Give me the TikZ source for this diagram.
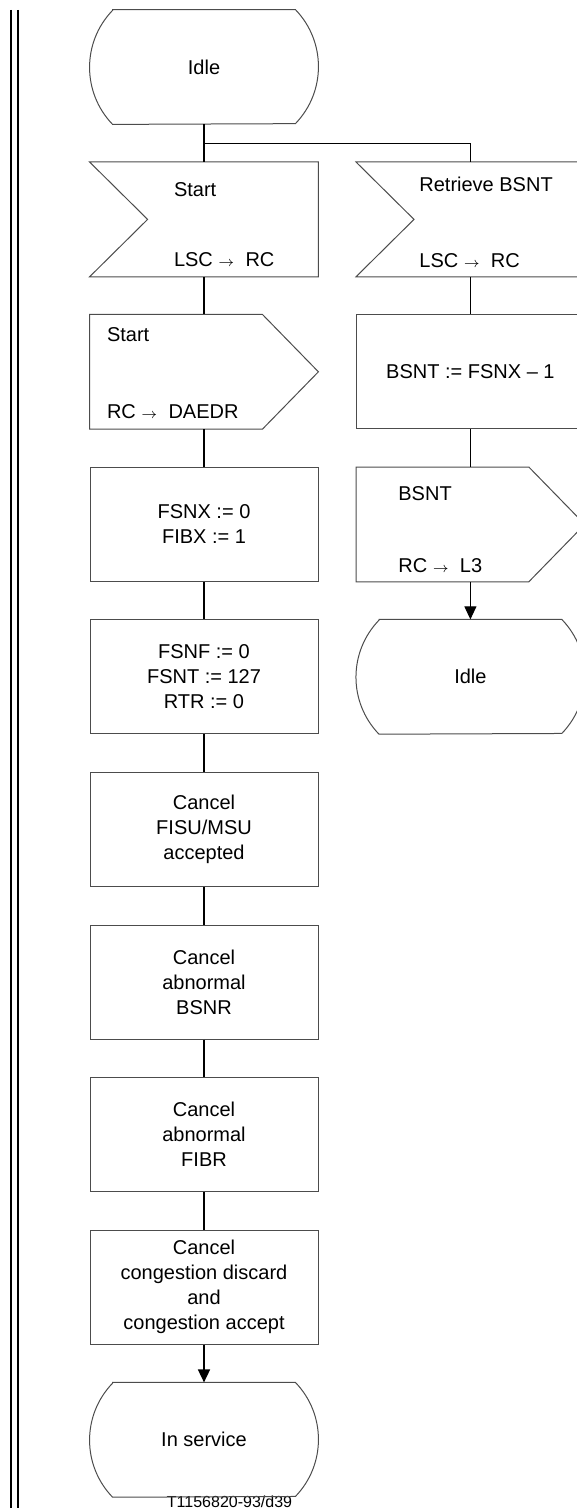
\documentclass[tikz,border=0pt]{standalone}
\usepackage{fontspec}
\setmainfont{Liberation Sans}
\usepackage{tikz}
\usetikzlibrary{positioning}
\usetikzlibrary{calc,arrows.meta}
\tikzset{
	node distance = 18.8pt and 18.8pt,
	every node/.style = {font=\fontsize{10}{12.5}\selectfont},
	blk/.style = {rectangle, minimum width = 114pt, minimum height = 57pt,
		inner sep = 0pt, align = center},
	task/.style = {blk, draw = black!70, line width = 0.5pt},
	rim/.style = {draw = black!70, line width = 0.5pt},
	txt/.style = {inner sep = 0pt, anchor = base west},
	flow/.style = {line width = 0.8pt},
	thin flow/.style = {line width = 0.5pt},
	tip/.style = {-{Triangle[length=6.5pt,width=6pt]}},
}
\newcommand{\sendto}{{\scriptsize$\rightarrow$}\ \ }

\begin{document}
\begin{tikzpicture}
	\useasboundingbox (0,0) rectangle (288.5pt,-754pt);
	% left border
	\draw[line width = 1pt] (5.5pt,-5pt) -- (5.5pt,-754pt);
	\draw[line width = 1pt] (9.2pt,-5pt) -- (9.2pt,-754pt);

	\node (idle1) [blk] at (102pt,-33.5pt) {Idle};
	\node (in1) [blk, below = of idle1] {};
	\node (out1) [blk, below = of in1] {};
	\node (set1) [task, below = of out1] {FSNX := 0\\FIBX := 1};
	\node (set2) [task, below = of set1] {FSNF := 0\\FSNT := 127\\RTR := 0};
	\node (cnc1) [task, below = of set2] {Cancel\\FISU/MSU\\accepted};
	\node (cnc2) [task, below = of cnc1] {Cancel\\abnormal\\BSNR};
	\node (cnc3) [task, below = of cnc2] {Cancel\\abnormal\\FIBR};
	\node (cnc4) [task, below = of cnc3] {Cancel\\congestion discard\\and\\congestion accept};
	\node (svc) [blk, below = of cnc4] {In service};
	\node (tag) [anchor = base, font = \fontsize{8}{9}\selectfont]
		at ([xshift = 12.75pt, yshift = -5pt]svc.south) {T1156820-93/d39};

	\node (in2) [blk, right = of in1] {};
	\node (set3) [task, below = of in2] {BSNT := FSNX – 1};
	\node (out2) [blk, below = of set3] {};
	\node (idle2) [blk, below = of out2] {Idle};

	% signal texts
	\node (in1a) [txt] at ([shift = {(42pt,-17.5pt)}]in1.north west) {Start};
	\node (in1b) [txt] at ([shift = {(42pt,5pt)}]in1.south west) {LSC \sendto RC};
	\node (out1a) [txt] at ([shift = {(8.5pt,-13.5pt)}]out1.north west) {Start};
	\node (out1b) [txt] at ([shift = {(8.5pt,5.5pt)}]out1.south west) {RC \sendto DAEDR};
	\node (in2a) [txt] at ([shift = {(31.5pt,-15pt)}]in2.north west) {Retrieve BSNT};
	\node (in2b) [txt] at ([shift = {(31.5pt,4.5pt)}]in2.south west) {LSC \sendto RC};
	\node (out2a) [txt] at ([shift = {(21pt,-16.5pt)}]out2.north west) {BSNT};
	\node (out2b) [txt] at ([shift = {(21pt,4.5pt)}]out2.south west) {RC \sendto L3};

	% outlines
	\foreach \n in {idle1, svc, idle2}
		\draw[rim] ([xshift = 11.5pt]\n.north west) -- ([xshift = -11.5pt]\n.north east)
			arc[start angle = 44, end angle = -44, radius = 41.05pt]
			-- ([xshift = 11.5pt]\n.south west)
			arc[start angle = 224, end angle = 136, radius = 41.05pt] -- cycle;
	\foreach \n in {in1, in2}
		\draw[rim] (\n.north west) -- (\n.north east) -- (\n.south east)
			-- (\n.south west) -- ([xshift = 29pt]\n.west) -- cycle;
	\foreach \n in {out1, out2}
		\draw[rim] (\n.north west) -- ([xshift = -28pt]\n.north east) -- (\n.east)
			-- ([xshift = -28pt]\n.south east) -- (\n.south west) -- cycle;

	% connectors
	\coordinate (fork) at ($(idle1.south)!0.5!(in1.north)$);
	\foreach \a/\b in {idle1/in1, in1/out1, out1/set1, set1/set2, set2/cnc1,
		cnc1/cnc2, cnc2/cnc3, cnc3/cnc4}
		\draw[flow] (\a) -- (\b);
	\draw[flow, tip] (cnc4) -- (svc);
	\draw[thin flow] (fork) -| (in2);
	\draw[thin flow] (in2) -- (set3);
	\draw[thin flow] (set3) -- (out2);
	\draw[thin flow, tip] (out2) -- (idle2);
\end{tikzpicture}
\end{document}
